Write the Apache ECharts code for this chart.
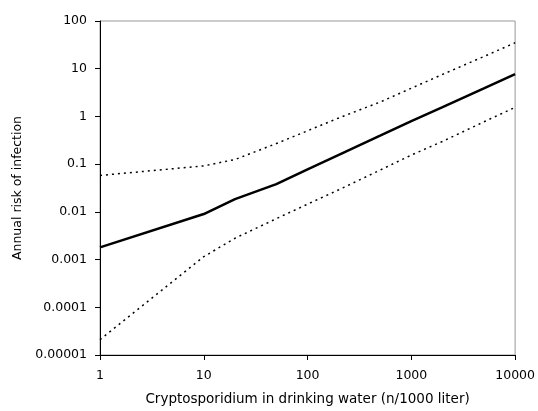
<!DOCTYPE html>
<html>
<head>
<meta charset="utf-8">
<script src="https://cdn.jsdelivr.net/npm/echarts@6/dist/echarts.min.js"></script>
<style>html,body{margin:0;padding:0;background:#fff;}#c{width:538px;height:411px;}</style>
</head>
<body>
<div id="c"></div>
<script>
var xVals = [1, 10, 20, 50, 100, 200, 500, 1000, 2000, 5000, 10000];
var midVals = [0.0018, 0.009, 0.0185, 0.038, 0.078, 0.157, 0.395, 0.8, 1.56, 3.86, 7.7];
var upperVals = [0.058, 0.092, 0.125, 0.27, 0.5, 0.93, 2.0, 3.9, 7.6, 18, 35];
var lowerVals = [0.000021, 0.00115, 0.0028, 0.0072, 0.0145, 0.029, 0.075, 0.155, 0.3, 0.77, 1.55];
var xTickLabels = ['1', '10', '100', '1000', '10000'];
var yTickLabels = ['0.00001', '0.0001', '0.001', '0.01', '0.1', '1', '10', '100'];
var xTitle = 'Cryptosporidium in drinking water (n/1000 liter)';
var yTitle = 'Annual risk of infection';

function pairs(ys) { return xVals.map(function (x, i) { return [x, ys[i]]; }); }
var font = 'DejaVu Sans, Arial, sans-serif';
var chart = echarts.init(document.getElementById('c'), null, { renderer: 'canvas' });
var dotted = { color: '#000', width: 1.5, type: [2, 4] };
chart.setOption({
  animation: false,
  backgroundColor: '#fff',
  grid: { left: 100, right: 21, top: 21, bottom: 55, show: true, borderColor: '#999', borderWidth: 1, backgroundColor: 'transparent' },
  xAxis: {
    type: 'log', logBase: 10, min: 1, max: 10000,
    name: xTitle, nameLocation: 'middle', nameGap: 37,
    nameTextStyle: { fontFamily: font, fontSize: 13.5, color: '#000' },
    axisLine: { lineStyle: { color: '#000', width: 1 } },
    axisTick: { show: true, length: 5, lineStyle: { color: '#000' } },
    minorTick: { show: false },
    splitLine: { show: false },
    axisLabel: { margin: 14, fontFamily: font, fontSize: 12.5, color: '#000',
      formatter: function (v) { var i = Math.round(Math.log10(v)); return xTickLabels[i] || ''; } }
  },
  yAxis: {
    type: 'log', logBase: 10, min: 0.00001, max: 100,
    name: yTitle, nameLocation: 'middle', nameGap: 76,
    nameTextStyle: { fontFamily: font, fontSize: 12.5, color: '#000' },
    axisLine: { show: true, lineStyle: { color: '#000', width: 1 } },
    axisTick: { show: true, length: 5, lineStyle: { color: '#000' } },
    splitLine: { show: false },
    axisLabel: { margin: 13, fontFamily: font, fontSize: 12.5, color: '#000',
      formatter: function (v) { var i = Math.round(Math.log10(v)) + 5; return yTickLabels[i] || ''; } }
  },
  series: [
    { type: 'line', data: pairs(upperVals), showSymbol: false, symbol: 'none', lineStyle: dotted },
    { type: 'line', data: pairs(midVals), showSymbol: false, symbol: 'none', lineStyle: { color: '#000', width: 2.5 } },
    { type: 'line', data: pairs(lowerVals), showSymbol: false, symbol: 'none', lineStyle: dotted }
  ]
});
</script>
</body>
</html>
